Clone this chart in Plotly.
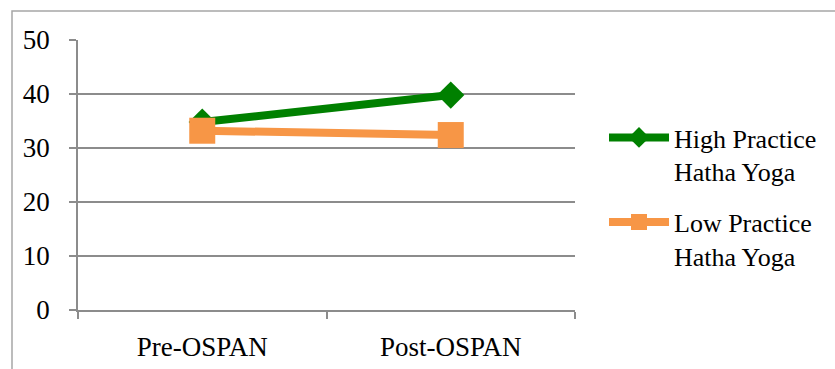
import plotly.graph_objects as go

# OSPAN scores by session
sessions = ["Pre-OSPAN", "Post-OSPAN"]
high_practice = [34.8, 39.8]
low_practice = [33.2, 32.4]
series_names = ["High Practice<br>Hatha Yoga", "Low Practice<br>Hatha Yoga"]
y_ticks = [0, 10, 20, 30, 40, 50]

W, H = 835, 369
L, R, T, B = 78, 260, 40, 59
plot_w = W - L - R
plot_h = H - T - B

GRID = "#8c8c8c"
SERIF = "serif"

fig = go.Figure()
fig.add_trace(go.Scatter(
    x=sessions, y=high_practice, name=series_names[0], mode="lines+markers",
    legendgroup="high",
    line=dict(color="#008000", width=8),
    marker=dict(symbol="diamond", size=21, color="#008000"),
))
fig.add_trace(go.Scatter(
    x=sessions, y=low_practice, name=series_names[1], mode="lines+markers",
    legendgroup="low",
    line=dict(color="#f79646", width=8),
    marker=dict(symbol="square", size=26, color="#f79646"),
))

# outer chart frame (runs off the right and bottom edges)
fig.add_shape(
    type="rect", xref="paper", yref="paper",
    x0=(12 - L) / plot_w, x1=(W + 20 - L) / plot_w,
    y0=-(B + 20) / plot_h, y1=(plot_h + T - 11) / plot_h,
    line=dict(color="#a6a6a6", width=1.5), fillcolor="rgba(0,0,0,0)", layer="below",
)

fig.update_layout(
    width=W, height=H,
    margin=dict(l=L, r=R, t=T, b=B, pad=0, autoexpand=False),
    paper_bgcolor="white", plot_bgcolor="white",
    showlegend=True,
    legend=dict(
        x=(604 - L) / plot_w, y=(310 - 114) / plot_h, xanchor="left", yanchor="top",
        font=dict(family=SERIF, size=26, color="#000000"),
        bgcolor="rgba(0,0,0,0)", tracegroupgap=14, itemwidth=60, valign="top",
    ),
    xaxis=dict(
        type="category", range=[-0.5, 1.5], tickson="boundaries",
        ticks="outside", ticklen=7, tickcolor=GRID, tickwidth=1.5,
        showline=True, linecolor=GRID, linewidth=1.5,
        showgrid=False, ticklabelstandoff=12, automargin=False,
        tickfont=dict(family=SERIF, size=27, color="#000000"),
    ),
    yaxis=dict(
        range=[0, 50], tickvals=y_ticks, ticks="outside", ticklen=7,
        tickcolor=GRID, tickwidth=1.5, showline=True, linecolor=GRID, linewidth=1.5,
        showgrid=True, gridcolor=GRID, gridwidth=1.5, zeroline=False,
        ticklabelstandoff=14, automargin=False,
        tickfont=dict(family=SERIF, size=27, color="#000000"),
    ),
)

fig.write_html("out.html")
